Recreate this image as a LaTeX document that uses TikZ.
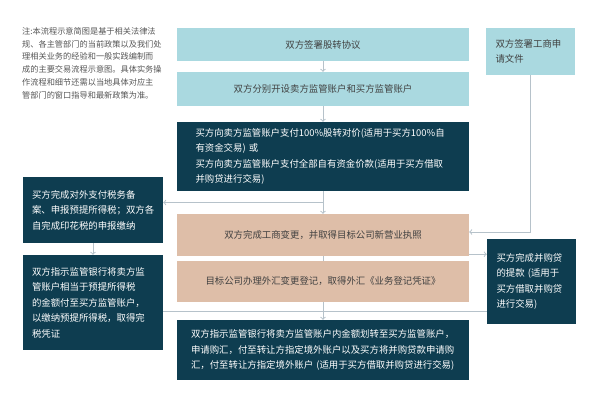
\documentclass[tikz,border=0pt]{standalone}
\usepackage{fontspec}
\setmainfont{Noto Sans CJK SC}
\usetikzlibrary{calc}

\definecolor{paleteal}{RGB}{170,217,224}
\definecolor{deepteal}{RGB}{14,61,80}
\definecolor{sand}{RGB}{222,190,168}
\definecolor{inkgray}{RGB}{64,64,64}
\definecolor{notegray}{RGB}{85,85,85}
\definecolor{wiregray}{RGB}{182,194,202}

\begin{document}
\begin{tikzpicture}[x=1pt, y=-1pt, >=to,
                    box/.style={inner sep=0pt, font=\fontsize{9.4}{15.5}\selectfont},
                    lightbox/.style={box, fill=paleteal, text=inkgray},
                    darkbox/.style={box, fill=deepteal, text=white},
                    sandbox/.style={box, fill=sand, text=inkgray},
                    wire/.style={draw=wiregray, line width=1pt}
                   ]
\useasboundingbox (0,0) rectangle (600,407);

\node [anchor=north west, inner sep=0pt, text width=146, align=left, text=notegray,
       font=\fontsize{8.2}{12.9}\selectfont] (note) at (22,27)
      {注:本流程示意简图是基于相关法律法\\规、各主管部门的当前政策以及我们处\\理相关业务的经验和一般实践编制而\\成的主要交易流程示意图。具体实务操\\作流程和细节还需以当地具体对应主\\管部门的窗口指导和最新政策为准。};

% main column
\node [lightbox, minimum width=292, minimum height=33] (sign) at (323,44.5)
      {双方签署股转协议};
\node [lightbox, minimum width=292, minimum height=34] (accounts) at (323,89)
      {双方分别开设卖方监管账户和买方监管账户};
\node [darkbox, minimum width=292, minimum height=69, text width=255, align=left] (pay) at (323,156.5)
      {买方向卖方监管账户支付100\%股转对价(适用于买方100\%自\\有资金交易)~或\\买方向卖方监管账户支付全部自有资金价款(适用于买方借取\\并购贷进行交易)};
\node [sandbox, minimum width=292, minimum height=42] (registry) at (323,235)
      {双方完成工商变更，并取得目标公司新营业执照};
\node [sandbox, minimum width=292, minimum height=41] (fx) at (323,281.5)
      {目标公司办理外汇变更登记，取得外汇《业务登记凭证》};
\node [darkbox, minimum width=292, minimum height=60, text width=264, align=left] (remit) at (323,350)
      {双方指示监管银行将卖方监管账户内金额划转至买方监管账户，\\申请购汇，付至转让方指定境外账户以及买方将并购贷款申请购\\汇，付至转让方指定境外账户~(适用于买方借取并购贷进行交易)};

% side boxes
\node [lightbox, minimum width=89, minimum height=47, text width=70, align=left] (filing) at (530.5,51.5)
      {双方签署工商申\\请文件};
\node [darkbox, minimum width=89, minimum height=85, text width=70, align=left] (loan) at (531.5,281.5)
      {买方完成并购贷\\的提款~(适用于\\买方借取并购贷\\进行交易)};
\node [darkbox, minimum width=140, minimum height=66, text width=122, align=left] (taxfiling) at (93,210)
      {买方完成对外支付税务备\\案、申报预提所得税；双方各\\自完成印花税的申报缴纳};
\node [darkbox, minimum width=140, minimum height=95, text width=122, align=left] (withhold) at (93,302.5)
      {双方指示监管银行将卖方监\\管账户相当于预提所得税\\的金额付至买方监管账户，\\以缴纳预提所得税，取得完\\税凭证};

\draw [wire,->] (sign) -- (accounts);
\draw [wire,->] (accounts) -- (pay);
\draw [wire,->] (pay) -- (registry);
\coordinate (split) at ($(pay.south)!0.5!(registry.north)$);
\draw [wire,->] (split) -- (split -| taxfiling.east);
\draw [wire,->] (taxfiling) -- (withhold);
\coordinate (feed) at ([yshift=3pt]registry.east);
\draw [wire,->] (filing) |- (feed);
\coordinate (tap) at ([yshift=2pt]registry.south east);
\draw [wire,->] (tap) -- (tap -| loan.west);
\draw [wire] (registry) -- (fx);
\coordinate (merge) at ($(fx.south)!0.5!(remit.north)$);
\draw [wire] (withhold.east |- merge) -- (loan.west |- merge);
\draw [wire,->] (fx) -- (remit);
\end{tikzpicture}
\end{document}
